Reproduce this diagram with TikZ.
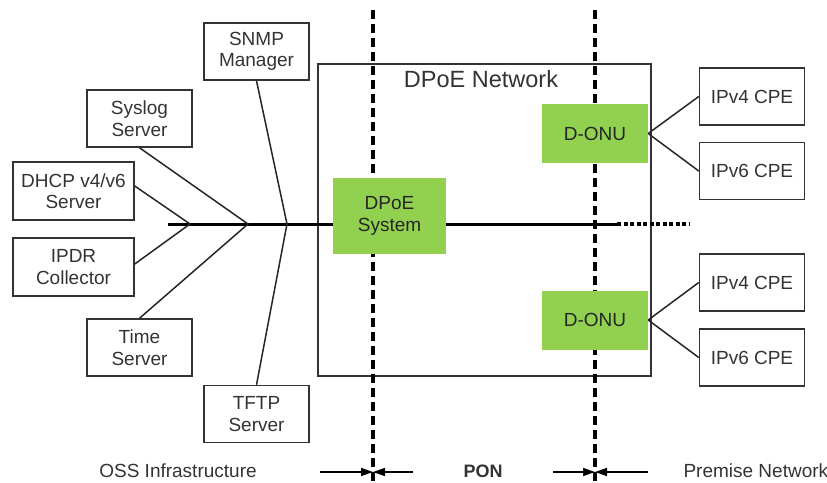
\documentclass[tikz,border=0pt]{standalone}
\usepackage{fontspec}
\setmainfont{Liberation Sans}
\usepackage{tikz}
\usetikzlibrary{positioning, arrows.meta}

\definecolor{onugreen}{HTML}{92D050}
\definecolor{txt}{HTML}{333333}

\begin{document}
\begin{tikzpicture}[x=1pt, y=-1pt,
     node distance = 3mm and 3mm,
        box/.style = {rectangle, draw=black!80, line width=1.5pt, text=txt,
                      align=center, inner sep=0pt, font=\fontsize{19}{21.5}\selectfont,
                      minimum width=105pt, minimum height=57pt},
       wbox/.style = {box, minimum width=121pt, minimum height=58pt},
       gbox/.style = {rectangle, fill=onugreen, text=black!85, align=center, inner sep=0pt,
                      font=\fontsize{19}{21.5}\selectfont,
                      minimum width=106pt, minimum height=59pt},
       link/.style = {line width=1.5pt, black!85},
       bus/.style  = {line width=3pt, black},
       pon/.style  = {line width=3.2pt, black, dash pattern=on 9pt off 5pt},
       span/.style = {line width=1.5pt, -{Triangle[length=12pt,width=8pt]}},
       lbl/.style  = {text=txt, font=\fontsize{19}{21.5}\selectfont}
                        ]
\useasboundingbox (0,0) rectangle (827,482);
\coordinate (ponLt) at (373,10);
\coordinate (ponLb) at (373,482);
\coordinate (ponRt) at (595,10);
\coordinate (ponRb) at (595,482);
\draw[line width=1.5pt, black!80] (318,64) rectangle (651,376);
\node (net) [lbl, font=\fontsize{23.5}{26}\selectfont] at (481,79) {DPoE Network};
\draw[pon] (ponLt) -- (ponLb);
\draw[pon] (ponRt) -- (ponRb);
\node (snmp)   [box]  at (256.5,51.5)  {SNMP\\Manager};
\node (syslog) [box]  at (139.5,118.5) {Syslog\\Server};
\node (dhcp)   [wbox] at (73.5,191)    {DHCP v4/v6\\Server};
\node (ipdr)   [wbox] at (73.5,267)    {IPDR\\Collector};
\node (time)   [box]  at (139.5,347.5) {Time\\Server};
\node (tftp)   [box]  at (256.5,414)   {TFTP\\Server};
\node (sys)  [gbox, minimum width=113pt, minimum height=76pt] at (389.5,216) {DPoE\\System};
\node (onuA) [gbox] at (595,133.5) {D-ONU};
\node (onuB) [gbox] at (595,320)   {D-ONU};
\node (cpe4A) [box] at (752,96.5)  {IPv4 CPE};
\node (cpe6A) [box] at (752,171)   {IPv6 CPE};
\node (cpe4B) [box] at (752,282.5) {IPv4 CPE};
\node (cpe6B) [box] at (752,357.5) {IPv6 CPE};
\coordinate (busL) at (168,224);
\coordinate (jA) at (190,224);
\coordinate (jB) at (248,224);
\coordinate (jC) at (287,224);
\coordinate (busR) at (617,224);
\coordinate (busE) at (690,224);
\draw[bus] (busL) -- (sys.west |- busL);
\draw[bus] (sys.east |- busR) -- (busR);
\draw[bus, line width=3.4pt, dash pattern=on 4pt off 2.5pt] (busR) -- (busE);
\draw[link] ([yshift=5pt]dhcp.east) -- (jA) -- ([yshift=3pt]ipdr.east);
\draw[link] (syslog.south) -- (jB) -- (time.north);
\draw[link] (snmp.south) -- (jC) -- (tftp.north);
\draw[link] (onuA.east) -- (cpe4A.west);
\draw[link] (onuA.east) -- (cpe6A.west);
\draw[link] (onuB.east) -- (cpe4B.west);
\draw[link] (onuB.east) -- (cpe6B.west);
\coordinate (aL1) at (320,472);
\coordinate (aL2) at (413,472);
\coordinate (aR1) at (553,472);
\coordinate (aR2) at (648,472);
\draw[span] (aL1) -- (ponLb |- aL1);
\draw[span] (aL2) -- (ponLb |- aL2);
\draw[span] (aR1) -- (ponRb |- aR1);
\draw[span] (aR2) -- (ponRb |- aR2);
\node (oss)  [lbl] at (178,471) {OSS Infrastructure};
\node (ponl) [lbl, font=\bfseries\fontsize{18}{20}\selectfont] at (483,471) {PON};
\node (prem) [lbl, anchor=west] at (680,471) {Premise Network};
\end{tikzpicture}
\end{document}
